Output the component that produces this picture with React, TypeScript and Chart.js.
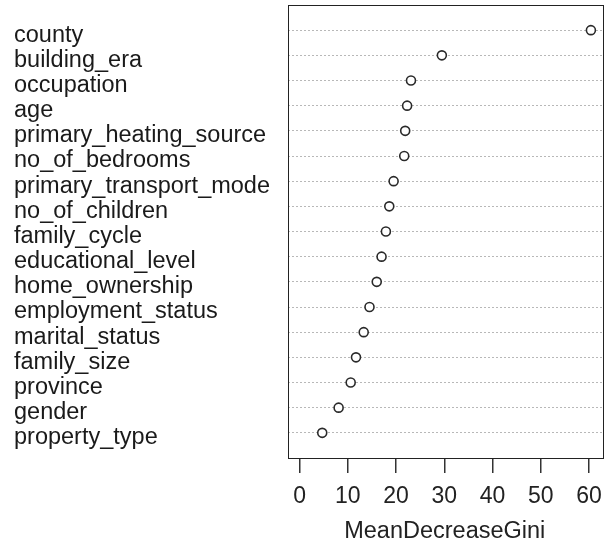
import React, { useEffect, useRef } from "react";
import { Chart, registerables } from "chart.js";

Chart.register(...registerables);

const features = [
  "county",
  "building_era",
  "occupation",
  "age",
  "primary_heating_source",
  "no_of_bedrooms",
  "primary_transport_mode",
  "no_of_children",
  "family_cycle",
  "educational_level",
  "home_ownership",
  "employment_status",
  "marital_status",
  "family_size",
  "province",
  "gender",
  "property_type",
];

const meanDecreaseGini = [
  60.4, 29.5, 23.1, 22.3, 21.9, 21.7, 19.5, 18.6, 17.9, 17.0, 16.0, 14.5, 13.3,
  11.7, 10.6, 8.1, 4.7,
];

const xTicks = [0, 10, 20, 30, 40, 50, 60];
const axisTitle = "MeanDecreaseGini";

const FONT = "'Liberation Sans', Arial, sans-serif";

export default function App() {
  const ref = useRef<HTMLCanvasElement | null>(null);

  useEffect(() => {
    if (!ref.current) return;
    const n = features.length;
    const rowOf = (i: number) => n - i;
    const data = meanDecreaseGini.map((v, i) => ({ x: v, y: rowOf(i) }));

    const boxPlugin = {
      id: "box",
      afterDraw(chart: any) {
        const { ctx, chartArea } = chart;
        ctx.save();
        ctx.strokeStyle = "#222";
        ctx.lineWidth = 1;
        ctx.strokeRect(
          Math.round(chartArea.left) + 0.5,
          Math.round(chartArea.top) + 0.5,
          Math.round(chartArea.right - chartArea.left),
          Math.round(chartArea.bottom - chartArea.top)
        );
        ctx.restore();
      },
    };

    const chart = new Chart(ref.current, {
      type: "scatter",
      data: {
        datasets: [
          {
            data,
            pointRadius: 4.5,
            pointHoverRadius: 4.5,
            pointBackgroundColor: "#ffffff",
            pointBorderColor: "#2a2a2a",
            pointBorderWidth: 1.6,
          },
        ],
      },
      options: {
        responsive: false,
        animation: false,
        events: [],
        layout: { autoPadding: false, padding: { left: 14, top: 5, right: 2, bottom: 0 } },
        plugins: {
          legend: { display: false },
          tooltip: { enabled: false },
        },
        scales: {
          x: {
            type: "linear",
            min: -2.5,
            max: 62.7,
            afterBuildTicks: (scale: any) => {
              scale.ticks = xTicks.map((v) => ({ value: v }));
            },
            afterFit: (scale: any) => {
              scale.height = 88;
              scale.paddingLeft = 0;
              scale.paddingRight = 0;
            },
            grid: {
              drawOnChartArea: false,
              drawTicks: true,
              tickLength: 15,
              color: "#333",
              lineWidth: 1.5,
            },
            border: { display: false },
            ticks: {
              color: "#222",
              font: { family: FONT, size: 23 },
              padding: 10,
              maxRotation: 0,
              autoSkip: false,
            },
            title: {
              display: true,
              text: axisTitle,
              color: "#222",
              font: { family: FONT, size: 23.5 },
              padding: { top: 6, bottom: 0 },
            },
          },
          y: {
            type: "linear",
            min: 0,
            max: n + 1,
            afterBuildTicks: (scale: any) => {
              scale.ticks = features.map((_, i) => ({ value: rowOf(i) }));
            },
            afterFit: (scale: any) => {
              scale.width = 273.5;
              scale.paddingTop = 0;
              scale.paddingBottom = 0;
            },
            grid: {
              drawOnChartArea: true,
              drawTicks: false,
              color: "#b8b8b8",
              lineWidth: 1,
            },
            border: { display: false, dash: [2, 2] },
            ticks: {
              autoSkip: false,
              crossAlign: "far",
              labelOffset: 5,
              color: "#1a1a1a",
              font: { family: FONT, size: 23.5 },
              callback: (v: any) => {
                const idx = n - Number(v);
                return features[idx] ?? "";
              },
            },
          },
        },
      },
      plugins: [boxPlugin],
    } as any);

    return () => chart.destroy();
  }, []);

  return (
    <div style={{ position: "absolute", left: 0, top: 0, width: 604, height: 546, background: "#fff" }}>
      <canvas ref={ref} width={604} height={546} style={{ width: 604, height: 546, display: "block" }} />
    </div>
  );
}
